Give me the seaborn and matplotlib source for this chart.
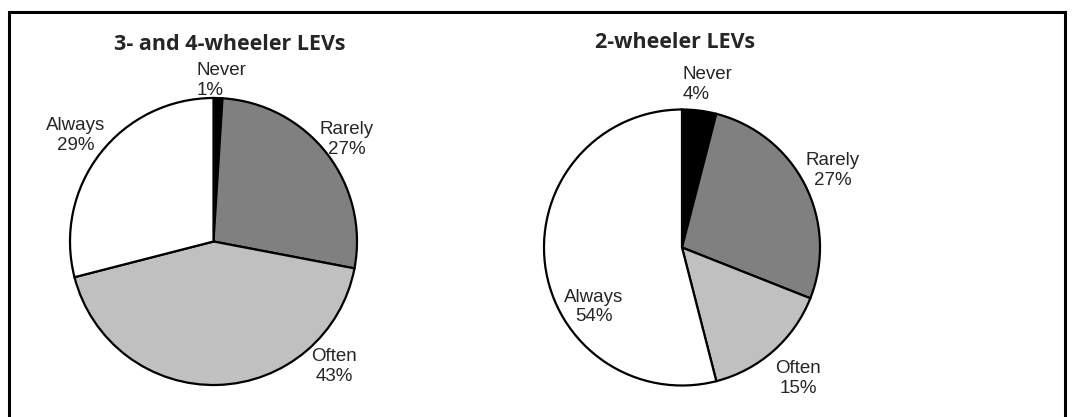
import matplotlib
matplotlib.use("Agg")
import matplotlib.pyplot as plt
import seaborn as sns
from matplotlib.patches import Rectangle

# data
categories = ["Never", "Rarely", "Often", "Always"]
share_34 = [1, 27, 43, 29]
share_2 = [4, 27, 15, 54]
slice_colors = ["#000000", "#808080", "#c0c0c0", "#ffffff"]

sns.set_style("white")
plt.rcParams["font.family"] = ["Liberation Sans", "DejaVu Sans"]

W, H = 1073, 417
fig = plt.figure(figsize=(W / 100, H / 100), dpi=100)


def pie_axes(cx, cy, r):
    # axes box in pixel units, converted to figure fractions
    return fig.add_axes([(cx - r) / W, (H - cy - r) / H, 2 * r / W, 2 * r / H])


def draw_pie(ax, values, label_pos):
    ax.pie(values, colors=slice_colors, startangle=90, counterclock=False,
           wedgeprops=dict(edgecolor="black", linewidth=1.6))
    ax.set_xlim(-1, 1)
    ax.set_ylim(-1, 1)
    ax.set_aspect("equal")
    ax.axis("off")
    for name, val, (x, y, ha) in zip(categories, values, label_pos):
        ax.text(x, y, f"{name}\n{val}%", ha=ha, va="center", multialignment=ha,
                fontsize=13.5, linespacing=1.2, clip_on=False)


ax1 = pie_axes(213.5, 241.5, 143.5)
draw_pie(ax1, share_34, [(-0.12, 1.12, "left"), (0.93, 0.71, "center"),
                         (0.84, -0.87, "center"), (-0.96, 0.74, "center")])

ax2 = pie_axes(682, 247.5, 138)
draw_pie(ax2, share_2, [(0.005, 1.18, "left"), (1.09, 0.56, "center"),
                        (0.84, -0.95, "center"), (-0.64, -0.43, "center")])

fig.text(230 / W, 1 - 44 / H, "3- and 4-wheeler LEVs", ha="center", va="center",
         fontsize=15.5, fontweight="bold", family=["Open Sans", "DejaVu Sans"])
fig.text(675 / W, 1 - 42 / H, "2-wheeler LEVs", ha="center", va="center",
         fontsize=15.5, fontweight="bold", family=["Open Sans", "DejaVu Sans"])

fig.patches.append(Rectangle((8.5 / W, -0.05), (1065 - 8.5) / W, 1 - 12 / H + 0.05,
                             transform=fig.transFigure, fill=False,
                             edgecolor="black", linewidth=2.2))

fig.savefig("out.png", dpi=100)
